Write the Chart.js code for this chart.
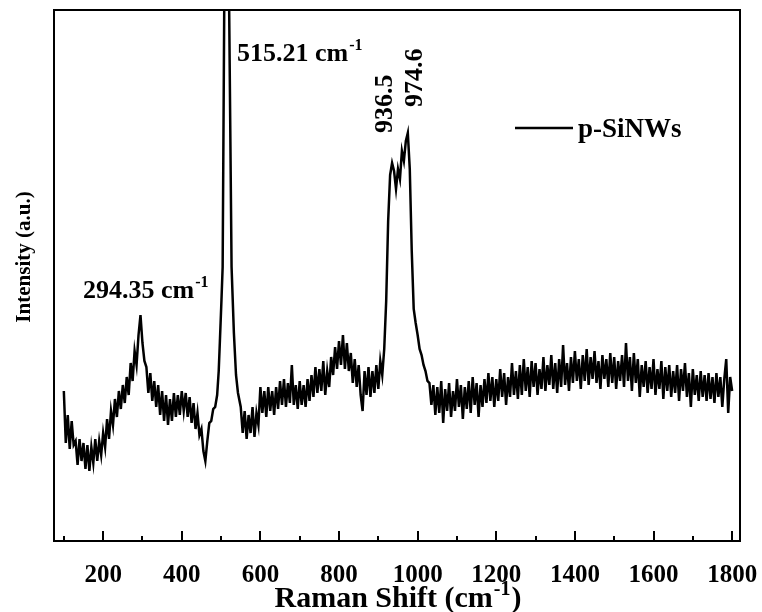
<!DOCTYPE html>
<html><head><meta charset="utf-8">
<script src="https://cdn.jsdelivr.net/npm/chart.js@4.4.1/dist/chart.umd.min.js"></script>
<style>html,body{margin:0;padding:0;background:#fff;}canvas{display:block;}</style>
</head><body>
<canvas id="c" width="762" height="612"></canvas>
<script>
// Raman shift (cm^-1)
const ramanShift = [
100,105,110,115,120,125,130,135,140,145,
150,155,160,165,170,175,180,185,190,195,
200,205,210,215,220,225,230,235,240,245,
250,255,260,265,270,275,280,285,290,295,
300,305,310,315,320,325,330,335,340,345,
350,355,360,365,370,375,380,385,390,395,
400,405,410,415,420,425,430,435,440,445,
450,455,460,465,470,475,480,485,
490,494,497,501,504,508,515.2,520.6,526.7,532.6,538,543,
550,555,560,565,570,575,580,585,590,595,
600,605,610,615,620,625,630,635,640,645,
650,655,660,665,670,675,680,685,690,695,
700,705,710,715,720,725,730,735,740,745,
750,755,760,765,770,775,780,785,790,795,
800,805,810,815,820,825,830,835,840,845,
850,855,860,865,870,875,880,885,890,895,
900,905,910,915,920,925,930,935,940,945,
950,955,960,965,970,975,980,985,990,995,
1000,1005,1010,1015,1020,1025,1030,1035,1040,1045,
1050,1055,1060,1065,1070,1075,1080,1085,1090,1095,
1100,1105,1110,1115,1120,1125,1130,1135,1140,1145,
1150,1155,1160,1165,1170,1175,1180,1185,1190,1195,
1200,1205,1210,1215,1220,1225,1230,1235,1240,1245,
1250,1255,1260,1265,1270,1275,1280,1285,1290,1295,
1300,1305,1310,1315,1320,1325,1330,1335,1340,1345,
1350,1355,1360,1365,1370,1375,1380,1385,1390,1395,
1400,1405,1410,1415,1420,1425,1430,1435,1440,1445,
1450,1455,1460,1465,1470,1475,1480,1485,1490,1495,
1500,1505,1510,1515,1520,1525,1530,1535,1540,1545,
1550,1555,1560,1565,1570,1575,1580,1585,1590,1595,
1600,1605,1610,1615,1620,1625,1630,1635,1640,1645,
1650,1655,1660,1665,1670,1675,1680,1685,1690,1695,
1700,1705,1710,1715,1720,1725,1730,1735,1740,1745,
1750,1755,1760,1765,1770,1775,1780,1785,1790,1795,
1800
];
// Intensity (a.u.)
const intensity = [
150,98,126,92,120,96,100,76,102,80,
98,72,96,70,94,78,102,80,100,86,
108,94,122,102,130,116,142,124,150,132,
156,138,164,146,178,160,190,176,206,226,
198,180,174,148,168,140,160,134,156,126,
150,120,146,116,142,120,148,124,146,126,
150,130,148,124,144,118,138,112,128,106,
112,90,80,100,118,120,132,134,
146,170,200,241,274,531,971,531,274,208,166,148,
134,108,130,102,126,108,134,104,128,116,
154,128,150,124,154,130,150,126,154,132,
160,136,162,134,158,138,176,136,156,132,
160,136,156,134,162,140,166,144,174,148,
172,150,180,146,170,154,184,166,194,172,
200,176,206,172,198,170,188,158,182,154,
176,146,130,170,146,174,144,170,148,176,
152,180,166,192,240,320,366,378,370,352,
372,362,390,380,400,408,372,290,232,218,
206,192,186,176,170,160,158,136,156,126,
154,128,160,118,152,130,158,124,150,130,
162,134,156,122,154,132,160,128,164,136,
158,124,156,134,162,138,168,140,164,134,
162,140,172,144,168,136,164,144,178,146,
170,142,176,146,182,150,174,144,180,154,
178,146,172,152,184,150,176,156,186,152,
178,148,182,154,196,156,178,150,184,158,
190,160,182,152,186,160,192,156,184,162,
190,158,180,152,186,162,182,154,188,158,
184,152,180,160,186,154,198,160,184,150,
188,158,182,144,176,154,180,148,174,152,
182,146,172,152,180,142,174,150,176,144,
170,148,176,140,172,150,178,144,168,134,
172,146,166,140,170,144,166,140,168,142,
164,138,168,144,164,134,162,182,128,164,
150
];
const xTicks = [200,400,600,800,1000,1200,1400,1600,1800];
const xMinorTicks = [100,300,500,700,900,1100,1300,1500,1700];
const seriesName = 'p-SiNWs';
const xTitle = ['Raman Shift (cm', '-1', ')'];
const yTitle = 'Intensity (a.u.)';
const peakNotes = [
  {text: '294.35 cm', sup: '-1'},
  {text: '515.21 cm', sup: '-1'},
  {text: '936.5'},
  {text: '974.6'}
];

const SERIF = "'Liberation Serif','Times New Roman',serif";
const F = px => 'bold ' + px + 'px ' + SERIF;

function supText(ctx, x, y, base, sup, tail, size, supSize, rise, align) {
  ctx.font = F(size);
  const wb = ctx.measureText(base).width;
  const wt = tail ? ctx.measureText(tail).width : 0;
  ctx.font = F(supSize);
  const ws = ctx.measureText(sup).width;
  let sx = x;
  if (align === 'center') sx = x - (wb + ws + wt) / 2;
  ctx.textAlign = 'left';
  ctx.textBaseline = 'alphabetic';
  ctx.font = F(size);
  ctx.fillText(base, sx, y);
  ctx.font = F(supSize);
  ctx.fillText(sup, sx + wb + 1, y - rise);
  if (tail) { ctx.font = F(size); ctx.fillText(tail, sx + wb + ws + 2, y); }
}

const decor = {
  id: 'decor',
  afterDraw(chart) {
    const {ctx, chartArea: a} = chart;
    const xs = chart.scales.x;
    const ds = chart.data.datasets[0];
    ctx.save();
    ctx.strokeStyle = '#000';
    ctx.fillStyle = '#000';
    // frame
    ctx.lineWidth = 2;
    ctx.strokeRect(a.left, a.top, a.right - a.left, a.bottom - a.top);
    // inward ticks
    ctx.beginPath();
    xs.ticks.forEach(t => {
      const p = Math.round(xs.getPixelForValue(t.value));
      ctx.moveTo(p, a.bottom); ctx.lineTo(p, a.bottom - 10);
    });
    xMinorTicks.forEach(v => {
      const p = Math.round(xs.getPixelForValue(v));
      ctx.moveTo(p, a.bottom); ctx.lineTo(p, a.bottom - 5);
    });
    ctx.stroke();
    // x title
    supText(ctx, (a.left + a.right) / 2, 607, xTitle[0], xTitle[1], xTitle[2], 30, 20, 12, 'center');
    // y title
    ctx.save();
    ctx.translate(25, 257);
    ctx.rotate(-Math.PI / 2);
    ctx.font = F(21);
    ctx.textAlign = 'center';
    ctx.textBaseline = 'middle';
    ctx.fillText(yTitle, 0, 0);
    ctx.restore();
    // legend
    ctx.lineWidth = 2.5;
    ctx.beginPath();
    ctx.moveTo(515, 128); ctx.lineTo(573, 128);
    ctx.stroke();
    ctx.font = F(27);
    ctx.textAlign = 'left';
    ctx.textBaseline = 'middle';
    ctx.fillText(ds.label, 578, 130);
    // peak notes
    supText(ctx, 83, 298, peakNotes[0].text, peakNotes[0].sup, '', 26, 16, 11, 'left');
    supText(ctx, 237, 61, peakNotes[1].text, peakNotes[1].sup, '', 26, 16, 11, 'left');
    [[peakNotes[2].text, 385, 133], [peakNotes[3].text, 415, 107]].forEach(([t, px, py]) => {
      ctx.save();
      ctx.translate(px, py);
      ctx.rotate(-Math.PI / 2);
      ctx.font = F(26);
      ctx.textAlign = 'left';
      ctx.textBaseline = 'middle';
      ctx.fillText(t, 0, 0);
      ctx.restore();
    });
    ctx.restore();
  }
};

new Chart(document.getElementById('c'), {
  type: 'line',
  data: {
    datasets: [{
      label: seriesName,
      data: ramanShift.map((v, i) => ({x: v, y: intensity[i]})),
      borderColor: '#000',
      borderWidth: 2.5,
      pointRadius: 0,
      tension: 0,
      fill: false
    }]
  },
  options: {
    responsive: false,
    animation: false,
    devicePixelRatio: 1,
    layout: {padding: {left: 0, top: 10, right: 22, bottom: 0}},
    plugins: {legend: {display: false}, tooltip: {enabled: false}},
    scales: {
      x: {
        type: 'linear', min: 75, max: 1820,
        afterBuildTicks: s => { s.ticks = xTicks.map(v => ({value: v})); },
        afterFit: s => { s.height = 71; s.paddingLeft = 0; s.paddingRight = 0; },
        grid: {display: false, drawTicks: false},
        border: {display: false},
        ticks: {
          color: '#000', padding: 20, maxRotation: 0, autoSkip: false,
          font: {family: SERIF, size: 25, weight: 'bold'},
          callback: v => String(v)
        }
      },
      y: {
        type: 'linear', min: 0, max: 531,
        afterFit: s => { s.width = 54; s.paddingTop = 0; s.paddingBottom = 0; },
        grid: {display: false, drawTicks: false},
        border: {display: false},
        ticks: {display: false}
      }
    }
  },
  plugins: [decor]
});
</script>
</body></html>
